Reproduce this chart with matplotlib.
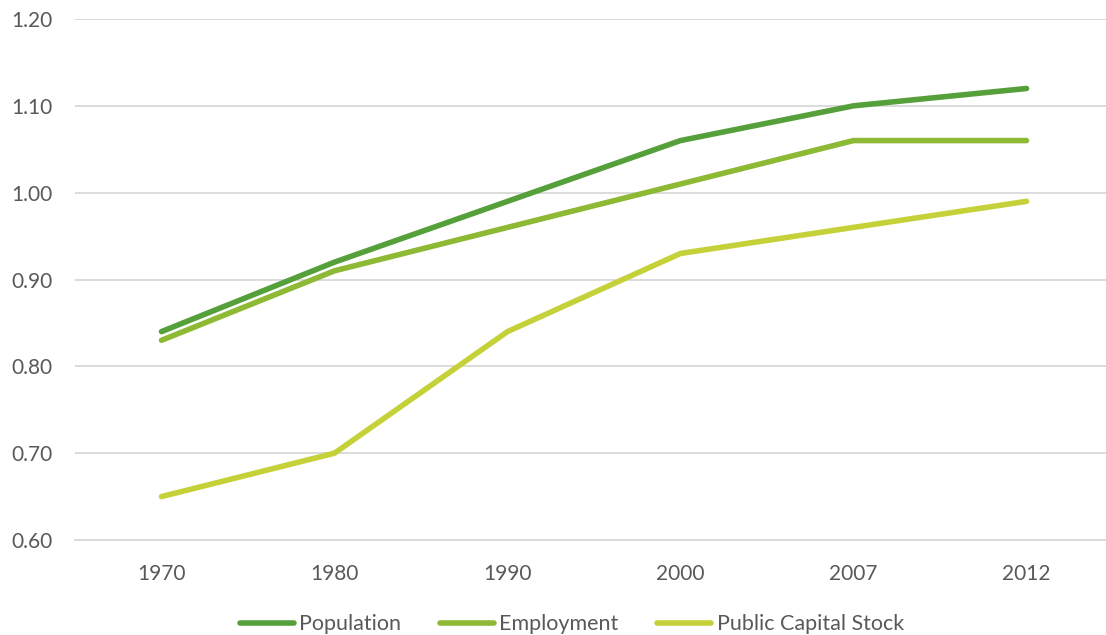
import matplotlib
matplotlib.use("Agg")
import matplotlib.pyplot as plt
from matplotlib.lines import Line2D

years = ["1970", "1980", "1990", "2000", "2007", "2012"]
population = [0.84, 0.92, 0.99, 1.06, 1.10, 1.12]
employment = [0.83, 0.91, 0.96, 1.01, 1.06, 1.06]
public_capital = [0.65, 0.70, 0.84, 0.93, 0.96, 0.99]
y_ticks = [0.60, 0.70, 0.80, 0.90, 1.00, 1.10, 1.20]

series = [
    ("Population", population, "#56A03B"),
    ("Employment", employment, "#8DB934"),
    ("Public Capital Stock", public_capital, "#C5D139"),
]

plt.rcParams["font.family"] = ["Lato", "DejaVu Sans"]
text_color = "#595959"

fig = plt.figure(figsize=(11.06, 6.35), dpi=100)
W, H = 1106, 635
left, right, top, bottom = 75, 1113, 19, 540
ax = fig.add_axes([left / W, 1 - bottom / H, (right - left) / W, (bottom - top) / H])

x = list(range(len(years)))
for name, vals, color in series:
    ax.plot(x, vals, color=color, lw=4.0, solid_capstyle="round",
            solid_joinstyle="round", label=name, zorder=3)

ax.set_xlim(-0.5, len(years) - 0.5)
ax.set_ylim(0.60, 1.20)
ax.set_yticks(y_ticks)
ax.set_yticklabels([f"{v:.2f}" for v in y_ticks])
ax.set_xticks(x)
ax.set_xticklabels(years)
ax.grid(axis="y", color="#D9D9D9", lw=1.3, zorder=0)
ax.set_axisbelow(True)
for s in ax.spines.values():
    s.set_visible(False)
ax.tick_params(axis="both", length=0, labelsize=15, colors=text_color)
ax.tick_params(axis="y", pad=16)
ax.tick_params(axis="x", pad=17)
ax.axhline(0.60, color="#D9D9D9", lw=1.3, zorder=1, clip_on=False)

handles = [Line2D([0], [0], color=c, lw=4.0, solid_capstyle="round") for _, _, c in series]
fig.legend(handles, [n for n, _, _ in series], loc="center",
           bbox_to_anchor=(572 / W, 1 - 624.5 / H), ncol=3, frameon=False,
           fontsize=15.5, labelcolor=text_color, handlelength=2.5,
           handletextpad=0.25, columnspacing=1.8)

fig.savefig("out.png", dpi=100)
